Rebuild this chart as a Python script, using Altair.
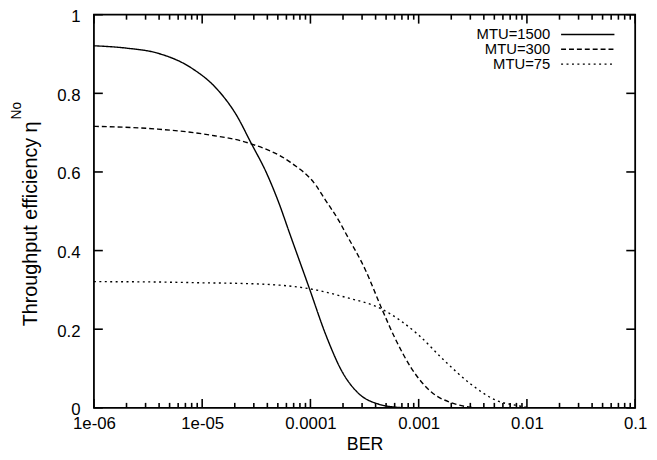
import altair as alt
import pandas as pd

series_names = ["MTU=1500", "MTU=300", "MTU=75"]

ber_1500 = [1.0e-6, 2.0e-6, 3.9e-6, 7.9e-6, 1.38e-5, 2.1e-5, 2.8e-5, 3.95e-5, 5.05e-5,
            6.5e-5, 9.8e-5, 1.39e-4, 1.98e-4, 2.8e-4, 4.3e-4, 6.0e-4, 8.0e-4, 0.1]
eff_1500 = [0.921, 0.915, 0.902, 0.865, 0.810, 0.742, 0.676, 0.596, 0.525,
            0.440, 0.303, 0.185, 0.090, 0.036, 0.009, 0.002, 0.0, 0.0]

ber_300 = [1.0e-6, 3.9e-6, 1.12e-5, 2.8e-5, 6.5e-5, 1.13e-4, 1.35e-4, 1.84e-4, 2.12e-4,
           3.23e-4, 4.58e-4, 6.07e-4, 8.6e-4, 1.31e-3, 2.0e-3, 2.63e-3, 3.5e-3, 0.1]
eff_300 = [0.716, 0.709, 0.695, 0.672, 0.625, 0.565, 0.532, 0.475, 0.444,
           0.350, 0.251, 0.176, 0.100, 0.040, 0.013, 0.004, 0.0, 0.0]

ber_75 = [1.0e-6, 4.0e-6, 1.0e-5, 2.6e-5, 5.2e-5, 9.8e-5, 2.12e-4, 4.58e-4, 9.9e-4,
          1.73e-3, 3.04e-3, 5.3e-3, 8.1e-3, 1.1e-2, 0.1]
eff_75 = [0.321, 0.320, 0.318, 0.316, 0.312, 0.303, 0.281, 0.251, 0.186,
          0.120, 0.060, 0.018, 0.006, 0.0, 0.0]

x_tick_values = [1e-6, 1e-5, 1e-4, 1e-3, 1e-2, 1e-1]
x_tick_labels = ["1e-06", "1e-05", "0.0001", "0.001", "0.01", "0.1"]
x_minor_mult = [2, 3, 4, 5, 6, 7, 8, 9]
y_tick_values = [0, 0.2, 0.4, 0.6, 0.8, 1.0]
y_tick_labels = ["0", "0.2", "0.4", "0.6", "0.8", "1"]

x_title = "BER"
y_title_main = "Throughput efficiency η"
y_title_sup = "No"

dashes = [[1, 0], [5, 3], [2, 3.5]]

W, H = 548, 398
TL, TS = 9, 5
FONT = "Liberation Sans"
TICK_COLOR = "black"

rows = []
for name, bs, es in [(series_names[0], ber_1500, eff_1500),
                     (series_names[1], ber_300, eff_300),
                     (series_names[2], ber_75, eff_75)]:
    for b, e in zip(bs, es):
        rows.append({"series": name, "ber": b, "eff": e})
df = pd.DataFrame(rows)

xticks_df = pd.DataFrame({"ber": x_tick_values})
xminor_df = pd.DataFrame({"ber": [m * v for v in x_tick_values[:-1] for m in x_minor_mult]})
yticks_df = pd.DataFrame({"eff": y_tick_values})


def label_expr(values, labels, geometric):
    expr = "'" + labels[-1] + "'"
    for i in range(len(values) - 2, -1, -1):
        if geometric:
            mid = (values[i] * values[i + 1]) ** 0.5
        else:
            mid = (values[i] + values[i + 1]) / 2
        expr = f"datum.value < {mid} ? '{labels[i]}' : ({expr})"
    return expr


xscale = alt.Scale(type="log", domain=[1e-6, 0.1], nice=False)
yscale = alt.Scale(domain=[0, 1], nice=False)

x_axis = alt.Axis(values=x_tick_values, labelExpr=label_expr(x_tick_values, x_tick_labels, True),
                  ticks=False, domain=False, grid=False, title=x_title,
                  labelFontSize=17, labelPadding=8, labelFlush=False,
                  titleFontSize=18, titleFontWeight="normal", titlePadding=4)
y_axis = alt.Axis(values=y_tick_values, labelExpr=label_expr(y_tick_values, y_tick_labels, False),
                  ticks=False, domain=False, grid=False, title=None, labelFontSize=17,
                  labelPadding=14, labelFlush=False, labelOffset=2)

lines = alt.Chart(df).mark_line(
    color="black", strokeWidth=1.4, interpolate="monotone", clip=True).encode(
    x=alt.X("ber:Q", scale=xscale, axis=x_axis),
    y=alt.Y("eff:Q", scale=yscale, axis=y_axis),
    strokeDash=alt.StrokeDash("series:N", scale=alt.Scale(domain=series_names, range=dashes),
                              legend=None),
    detail="series:N",
)


def xt(data, y0, y1):
    return alt.Chart(data).mark_rule(color=TICK_COLOR, strokeWidth=1.6).encode(
        x=alt.X("ber:Q", scale=xscale, axis=x_axis),
        y=alt.value(y0), y2=alt.value(y1))


def yt(x0, x1):
    return alt.Chart(yticks_df).mark_rule(color=TICK_COLOR, strokeWidth=1.6).encode(
        y=alt.Y("eff:Q", scale=yscale, axis=y_axis),
        x=alt.value(x0), x2=alt.value(x1))


tick_layers = [xt(xticks_df, H, H - TL), xt(xticks_df, 0, TL),
               xt(xminor_df, H, H - TS), xt(xminor_df, 0, TS),
               yt(0, TL), yt(W, W - TL)]

legend_layers = []
for i, name in enumerate(series_names):
    ry = 20 + 15 * i
    ldf = pd.DataFrame({"series": [name]})
    legend_layers.append(
        alt.Chart(ldf).mark_text(align="right", baseline="middle", fontSize=15, font=FONT,
                                 color="black").encode(
            text="series:N", x=alt.value(462), y=alt.value(ry)))
    legend_layers.append(
        alt.Chart(ldf).mark_rule(color="black", strokeWidth=1.4, strokeDash=dashes[i]).encode(
            x=alt.value(473), x2=alt.value(527), y=alt.value(ry)))

title_df = pd.DataFrame({"t": [y_title_main], "s": [y_title_sup]})
title_layers = [
    alt.Chart(title_df).mark_text(angle=270, align="right", baseline="middle", fontSize=20,
                                  font=FONT, color="black").encode(
        text="t:N", x=alt.value(-64), y=alt.value(108)),
    alt.Chart(title_df).mark_text(angle=270, align="left", baseline="middle", fontSize=14,
                                  font=FONT, color="black").encode(
        text="s:N", x=alt.value(-78), y=alt.value(106)),
]

chart = alt.layer(lines, *tick_layers, *legend_layers, *title_layers).properties(
    width=W, height=H,
    autosize=alt.AutoSizeParams(type="none"),
    padding={"left": 87, "top": 4, "right": 14, "bottom": 48},
).configure_axis(
    labelFont=FONT, titleFont=FONT, labelColor="black", titleColor="black",
).configure_view(stroke="black", strokeWidth=1.8)

chart.save("out.html", embed_options={"renderer": "svg", "actions": False})
